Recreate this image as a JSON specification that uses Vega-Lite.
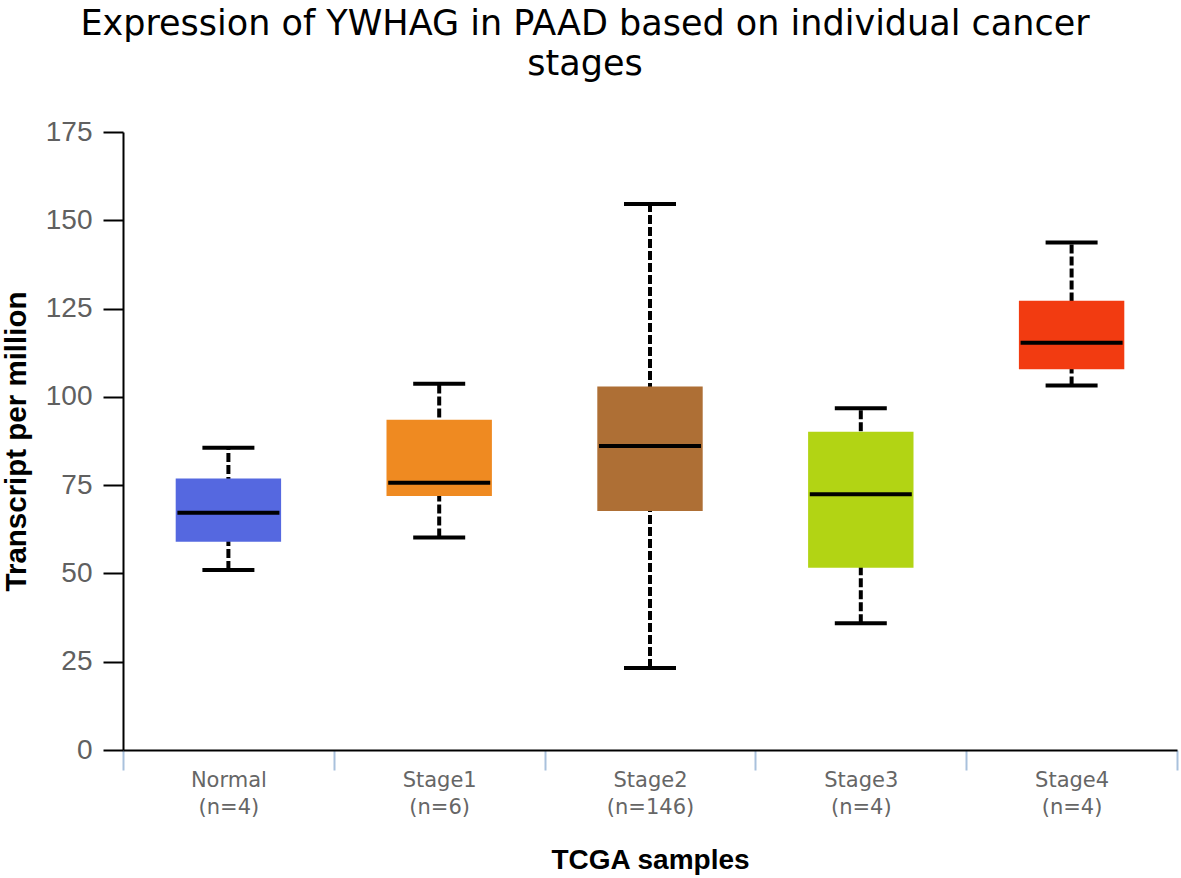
{
  "$schema": "https://vega.github.io/schema/vega-lite/v6.json",
  "autosize": "none",
  "padding": {"left": 123, "top": 132, "right": 4, "bottom": 128},
  "width": 1054,
  "height": 618,
  "background": "white",
  "view": {"stroke": null},
  "title": {
    "text": ["Expression of YWHAG in PAAD based on individual cancer", "stages"],
    "font": "DejaVu Sans",
    "fontSize": 35,
    "fontWeight": "normal",
    "color": "#000000",
    "lineHeight": 40,
    "anchor": "middle",
    "frame": "group",
    "dx": -65,
    "offset": 36
  },
  "data": {
    "values": [
      {"stage": "Normal", "lower": 51.0, "q1": 59.0, "median": 67.2, "q3": 76.9, "upper": 85.6},
      {"stage": "Stage1", "lower": 60.2, "q1": 71.9, "median": 75.7, "q3": 93.5, "upper": 103.7},
      {"stage": "Stage2", "lower": 23.2, "q1": 67.7, "median": 86.1, "q3": 102.9, "upper": 154.6},
      {"stage": "Stage3", "lower": 35.9, "q1": 51.6, "median": 72.4, "q3": 90.1, "upper": 96.8},
      {"stage": "Stage4", "lower": 103.2, "q1": 107.8, "median": 115.3, "q3": 127.2, "upper": 143.7}
    ]
  },
  "encoding": {
    "x": {
      "field": "stage",
      "type": "nominal",
      "sort": null,
      "scale": {"paddingInner": 0, "paddingOuter": 0},
      "axis": {
        "title": "TCGA samples",
        "titleFont": "Liberation Sans",
        "titleFontSize": 28,
        "titleFontWeight": "bold",
        "titleColor": "#000000",
        "titleBaseline": "alphabetic",
        "titleY": 118,
        "labelAngle": 0,
        "labelFont": "DejaVu Sans",
        "labelFontSize": 21,
        "labelColor": "#666666",
        "labelLineHeight": 27,
        "labelPadding": -1,
        "labelExpr": "datum.value == 'Normal' ? ['Normal', '(n=4)'] : datum.value == 'Stage1' ? ['Stage1', '(n=6)'] : datum.value == 'Stage2' ? ['Stage2', '(n=146)'] : datum.value == 'Stage3' ? ['Stage3', '(n=4)'] : datum.value == 'Stage4' ? ['Stage4', '(n=4)'] : ''",
        "tickBand": "extent",
        "tickSize": 20,
        "tickColor": "#a9c1dc",
        "tickWidth": 2,
        "domainColor": "#000000",
        "domainWidth": 2,
        "grid": false
      }
    }
  },
  "layer": [
    {
      "mark": {"type": "rule", "color": "#000000", "strokeWidth": 4, "strokeDash": [9, 3]},
      "encoding": {
        "y": {
          "field": "lower",
          "type": "quantitative",
          "scale": {"domain": [0, 175], "nice": false},
          "axis": {
            "title": "Transcript per million",
            "titleFont": "Liberation Sans",
            "titleFontSize": 29.5,
            "titleFontWeight": "bold",
            "titleColor": "#000000",
            "titleAngle": -90,
            "titleAlign": "center",
            "titleBaseline": "alphabetic",
            "titleX": -98,
            "titleY": 309,
            "values": [0, 25, 50, 75, 100, 125, 150, 175],
            "labelFont": "Liberation Sans",
            "labelFontSize": 28,
            "labelColor": "#606060",
            "labelPadding": 11,
            "tickSize": 20,
            "tickColor": "#000000",
            "tickWidth": 2,
            "domainColor": "#000000",
            "domainWidth": 2,
            "grid": false
          }
        },
        "y2": {"field": "upper"}
      }
    },
    {
      "mark": {"type": "bar", "width": {"band": 0.5}},
      "encoding": {
        "y": {"field": "q1", "type": "quantitative"},
        "y2": {"field": "q3"},
        "color": {
          "field": "stage",
          "type": "nominal",
          "scale": {
            "domain": ["Normal", "Stage1", "Stage2", "Stage3", "Stage4"],
            "range": ["#5568e0", "#ef8a21", "#ae6f35", "#b2d414", "#f23b11"]
          },
          "legend": null
        }
      }
    },
    {
      "mark": {"type": "tick", "color": "#000000", "size": 102, "thickness": 4, "opacity": 1},
      "encoding": {"y": {"field": "median", "type": "quantitative"}}
    },
    {
      "mark": {"type": "tick", "color": "#000000", "size": 52, "thickness": 4, "opacity": 1},
      "encoding": {"y": {"field": "upper", "type": "quantitative"}}
    },
    {
      "mark": {"type": "tick", "color": "#000000", "size": 52, "thickness": 4, "opacity": 1},
      "encoding": {"y": {"field": "lower", "type": "quantitative"}}
    }
  ]
}
